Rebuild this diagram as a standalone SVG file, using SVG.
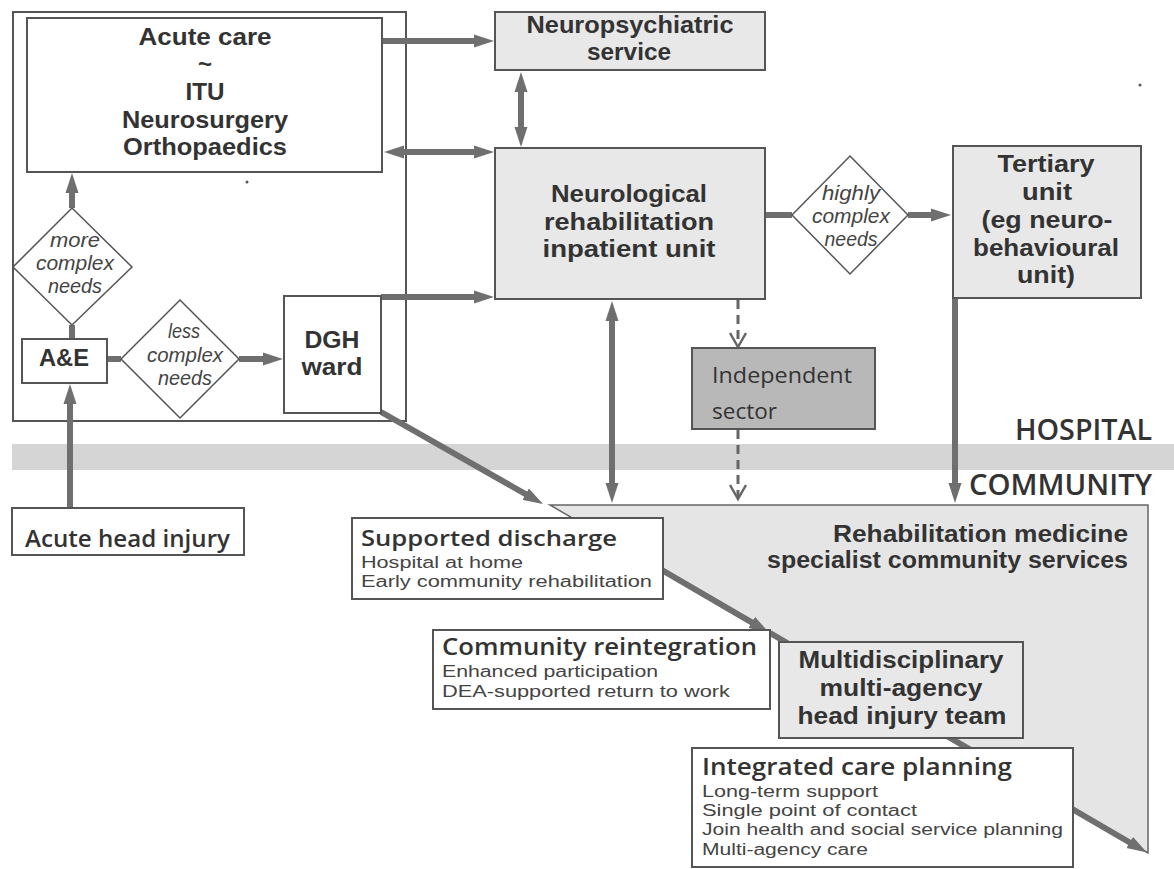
<svg xmlns="http://www.w3.org/2000/svg" width="1174" height="869" viewBox="0 0 1174 869">
<style>
text{font-family:"Liberation Sans",Arial,sans-serif;fill:#333;}
.b{font-weight:700;font-size:24px;text-anchor:middle;}
.h{font-family:"Open Sans","Noto Sans",sans-serif;font-weight:600;font-size:23px;}
.s{font-weight:400;font-size:16px;fill:#444;}
.i{font-style:italic;font-size:20px;text-anchor:middle;fill:#444;}
.box{fill:#fff;stroke:#555;stroke-width:2;}
.gbox{fill:#e8e8e8;stroke:#555;stroke-width:2;}
.dia{fill:#fff;stroke:#555;stroke-width:1.5;}
.c{stroke:#6f6f6f;stroke-width:6;fill:none;}
.d{stroke:#666;stroke-width:3;fill:none;stroke-dasharray:9 6;}
.v{stroke:#666;stroke-width:2.5;fill:none;}
</style>
<defs>
<marker id="ah" markerUnits="userSpaceOnUse" markerWidth="22" markerHeight="14" refX="5" refY="7" orient="auto-start-reverse">
<path d="M0,0.5 L20,7 L0,13.5 Z" fill="#6f6f6f"/>
</marker>
</defs>
<rect width="1174" height="869" fill="#fff"/>
<g id="band"><rect x="12" y="444" width="1162" height="26" fill="#d5d5d5"/></g>
<g id="hospital-frame"><rect x="13" y="12" width="393" height="409" fill="none" stroke="#555" stroke-width="2"/></g>
<g id="community-services">
<path d="M550,505 L1148,505 L1148,853 Z" fill="#e5e5e5" stroke="#666" stroke-width="1.5"/>
<text class="b" x="1128" y="542" style="text-anchor:end;font-size:23px" textLength="295" lengthAdjust="spacingAndGlyphs">Rehabilitation medicine</text>
<text class="b" x="1128" y="568" style="text-anchor:end;font-size:23px" textLength="361" lengthAdjust="spacingAndGlyphs">specialist community services</text>
</g>
<g id="labels">
<text class="h" x="1152" y="440" style="text-anchor:end;font-size:28px" textLength="137" lengthAdjust="spacingAndGlyphs">HOSPITAL</text>
<text class="h" x="1152" y="495" style="text-anchor:end;font-size:28px" textLength="183" lengthAdjust="spacingAndGlyphs">COMMUNITY</text>
</g>
<g id="connectors">
<line class="c" x1="72" y1="339" x2="72" y2="325"/>
<line class="c" x1="72" y1="208" x2="72" y2="188" marker-end="url(#ah)"/>
<line class="c" x1="70" y1="508" x2="70" y2="399" marker-end="url(#ah)"/>
<line class="c" x1="107" y1="359" x2="121" y2="359"/>
<line class="c" x1="239" y1="359" x2="268" y2="359" marker-end="url(#ah)"/>
<line class="c" x1="382" y1="41" x2="479" y2="41" marker-end="url(#ah)"/>
<line class="c" x1="399" y1="152" x2="479" y2="152" marker-start="url(#ah)" marker-end="url(#ah)"/>
<line class="c" x1="381" y1="297" x2="479" y2="297" marker-end="url(#ah)"/>
<line class="c" x1="521" y1="87" x2="521" y2="132" marker-start="url(#ah)" marker-end="url(#ah)"/>
<line class="c" x1="765" y1="215" x2="792" y2="215"/>
<line class="c" x1="908" y1="215" x2="936" y2="215" marker-end="url(#ah)"/>
<line class="c" x1="612" y1="316" x2="612" y2="488" marker-start="url(#ah)" marker-end="url(#ah)"/>
<line class="c" x1="955" y1="298" x2="955" y2="488" marker-end="url(#ah)"/>
<line class="d" x1="738" y1="300" x2="738" y2="345"/>
<polyline class="v" points="730,333 738,347 746,333"/>
<line class="d" x1="738" y1="430" x2="738" y2="498"/>
<polyline class="v" points="730,485 738,499 746,485"/>
<line class="c" stroke-width="5" x1="381" y1="412" x2="530" y2="496.6" marker-end="url(#ah)"/>
<line class="c" stroke-width="5" x1="600" y1="534" x2="756" y2="624.9" marker-end="url(#ah)"/>
<line class="c" stroke-width="5" x1="770" y1="633" x2="1134" y2="845" marker-end="url(#ah)"/>
</g>
<g id="acute-care">
<rect class="box" x="27" y="18" width="355" height="154"/>
<text class="b" x="205" y="45" textLength="133" lengthAdjust="spacingAndGlyphs">Acute care</text>
<text class="b" x="205" y="72">~</text>
<text class="b" x="205" y="100" textLength="39" lengthAdjust="spacingAndGlyphs">ITU</text>
<text class="b" x="205" y="128" textLength="166" lengthAdjust="spacingAndGlyphs">Neurosurgery</text>
<text class="b" x="205" y="155" textLength="164" lengthAdjust="spacingAndGlyphs">Orthopaedics</text>
</g>
<g id="more-complex">
<polygon class="dia" points="72,208 132,267 72,325 13,267"/>
<text class="i" x="75" y="247" textLength="50" lengthAdjust="spacingAndGlyphs">more</text>
<text class="i" x="75" y="270" textLength="78" lengthAdjust="spacingAndGlyphs">complex</text>
<text class="i" x="75" y="293" textLength="54" lengthAdjust="spacingAndGlyphs">needs</text>
</g>
<g id="ae">
<rect class="box" x="22" y="339" width="85" height="44"/>
<text class="b" x="64" y="366" textLength="50" lengthAdjust="spacingAndGlyphs">A&amp;E</text>
</g>
<g id="less-complex">
<polygon class="dia" points="180,300 239,359 180,418 121,359"/>
<text class="i" x="184" y="338" textLength="32" lengthAdjust="spacingAndGlyphs">less</text>
<text class="i" x="185" y="362" textLength="76" lengthAdjust="spacingAndGlyphs">complex</text>
<text class="i" x="185" y="385" textLength="54" lengthAdjust="spacingAndGlyphs">needs</text>
</g>
<g id="dgh-ward">
<rect class="box" x="284" y="296" width="97" height="117"/>
<text class="b" x="332" y="348" textLength="55" lengthAdjust="spacingAndGlyphs">DGH</text>
<text class="b" x="332" y="375" textLength="61" lengthAdjust="spacingAndGlyphs">ward</text>
</g>
<g id="acute-head-injury">
<rect class="box" x="12" y="508" width="232" height="47"/>
<text class="h" x="25" y="547" textLength="205" lengthAdjust="spacingAndGlyphs">Acute head injury</text>
</g>
<g id="neuropsychiatric">
<rect class="gbox" x="495" y="12" width="270" height="58"/>
<text class="b" x="630" y="33" textLength="207" lengthAdjust="spacingAndGlyphs">Neuropsychiatric</text>
<text class="b" x="629" y="60" textLength="84" lengthAdjust="spacingAndGlyphs">service</text>
</g>
<g id="neuro-rehab">
<rect class="gbox" x="495" y="148" width="270" height="151"/>
<text class="b" x="629" y="202" textLength="156" lengthAdjust="spacingAndGlyphs">Neurological</text>
<text class="b" x="629" y="230" textLength="170" lengthAdjust="spacingAndGlyphs">rehabilitation</text>
<text class="b" x="629" y="257" textLength="173" lengthAdjust="spacingAndGlyphs">inpatient unit</text>
</g>
<g id="highly-complex">
<polygon class="dia" points="850,156 908,215 850,274 792,215"/>
<text class="i" x="851" y="200" textLength="58" lengthAdjust="spacingAndGlyphs">highly</text>
<text class="i" x="851" y="223" textLength="78" lengthAdjust="spacingAndGlyphs">complex</text>
<text class="i" x="851" y="246" textLength="53" lengthAdjust="spacingAndGlyphs">needs</text>
</g>
<g id="tertiary">
<rect class="gbox" x="953" y="146" width="188" height="152"/>
<text class="b" x="1046" y="172" textLength="97" lengthAdjust="spacingAndGlyphs">Tertiary</text>
<text class="b" x="1047" y="200" textLength="50" lengthAdjust="spacingAndGlyphs">unit</text>
<text class="b" x="1047" y="228" textLength="131" lengthAdjust="spacingAndGlyphs">(eg neuro-</text>
<text class="b" x="1046" y="256" textLength="146" lengthAdjust="spacingAndGlyphs">behavioural</text>
<text class="b" x="1046" y="283" textLength="58" lengthAdjust="spacingAndGlyphs">unit)</text>
</g>
<g id="independent-sector">
<rect x="692" y="348" width="183" height="81" fill="#b8b8b8" stroke="#555" stroke-width="2"/>
<text x="712" y="383" style="font-family:'Open Sans','Noto Sans',sans-serif;font-size:22px" textLength="140" lengthAdjust="spacingAndGlyphs">Independent</text>
<text x="712" y="419" style="font-family:'Open Sans','Noto Sans',sans-serif;font-size:22px" textLength="65" lengthAdjust="spacingAndGlyphs">sector</text>
</g>
<g id="supported-discharge">
<rect class="box" x="352" y="518" width="311" height="81"/>
<text class="h" x="361" y="546" style="font-size:22px" textLength="256" lengthAdjust="spacingAndGlyphs">Supported discharge</text>
<text class="s" x="361" y="568" textLength="162" lengthAdjust="spacingAndGlyphs">Hospital at home</text>
<text class="s" x="361" y="587" textLength="291" lengthAdjust="spacingAndGlyphs">Early community rehabilitation</text>
</g>
<g id="community-reintegration">
<rect class="box" x="433" y="630" width="337" height="79"/>
<text class="h" x="442" y="655" textLength="315" lengthAdjust="spacingAndGlyphs">Community reintegration</text>
<text class="s" x="442" y="677" textLength="216" lengthAdjust="spacingAndGlyphs">Enhanced participation</text>
<text class="s" x="442" y="697" textLength="288" lengthAdjust="spacingAndGlyphs">DEA-supported return to work</text>
</g>
<g id="multidisciplinary-team">
<rect class="gbox" x="779" y="642" width="244" height="96"/>
<text class="b" x="901" y="668" textLength="205" lengthAdjust="spacingAndGlyphs">Multidisciplinary</text>
<text class="b" x="901" y="696" textLength="163" lengthAdjust="spacingAndGlyphs">multi-agency</text>
<text class="b" x="902" y="724" textLength="209" lengthAdjust="spacingAndGlyphs">head injury team</text>
</g>
<g id="integrated-care-planning">
<rect class="box" x="692" y="748" width="381" height="119"/>
<text class="h" x="702" y="775" textLength="310" lengthAdjust="spacingAndGlyphs">Integrated care planning</text>
<text class="s" x="702" y="797" textLength="176" lengthAdjust="spacingAndGlyphs">Long-term support</text>
<text class="s" x="702" y="816" textLength="215" lengthAdjust="spacingAndGlyphs">Single point of contact</text>
<text class="s" x="702" y="835" textLength="361" lengthAdjust="spacingAndGlyphs">Join health and social service planning</text>
<text class="s" x="702" y="855" textLength="166" lengthAdjust="spacingAndGlyphs">Multi-agency care</text>
</g>
<g id="specks">
<circle cx="247" cy="182" r="1.5" fill="#555"/>
<circle cx="1140" cy="85" r="1.5" fill="#555"/>
</g>
</svg>
